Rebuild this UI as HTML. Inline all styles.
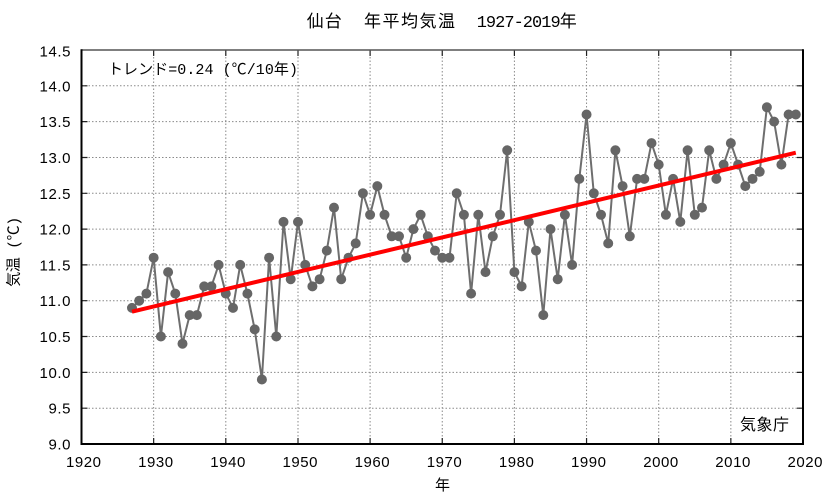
<!DOCTYPE html>
<html>
<head>
<meta charset="utf-8">
<style>
html,body{margin:0;padding:0;background:#fff;}
svg{display:block;}
text{fill:#000;}
.tk{font-family:"Liberation Sans",sans-serif;font-size:15px;}
.jp{font-family:"Liberation Mono","Noto Sans CJK JP",monospace;}
</style>
</head>
<body>
<svg width="833" height="498" viewBox="0 0 833 498" xmlns="http://www.w3.org/2000/svg">
<rect x="0" y="0" width="833" height="498" fill="#fff"/>

<!-- title -->
<text class="jp" x="306.7" y="27" font-size="17" textLength="35">仙台</text>
<text class="jp" x="364" y="27" font-size="17" textLength="91">年平均気温</text>
<text class="jp" x="476.7" y="27" font-size="17" textLength="100">1927-2019年</text>

<!-- grid -->
<g stroke="#8a8a8a" stroke-width="1" stroke-dasharray="1.5 2" fill="none">
  <line x1="81.5" y1="85.8" x2="803" y2="85.8"/>
  <line x1="81.5" y1="121.6" x2="803" y2="121.6"/>
  <line x1="81.5" y1="157.5" x2="803" y2="157.5"/>
  <line x1="81.5" y1="193.3" x2="803" y2="193.3"/>
  <line x1="81.5" y1="229.1" x2="803" y2="229.1"/>
  <line x1="81.5" y1="264.9" x2="803" y2="264.9"/>
  <line x1="81.5" y1="300.7" x2="803" y2="300.7"/>
  <line x1="81.5" y1="336.5" x2="803" y2="336.5"/>
  <line x1="81.5" y1="372.4" x2="803" y2="372.4"/>
  <line x1="81.5" y1="408.2" x2="803" y2="408.2"/>
  <line x1="153.65" y1="50" x2="153.65" y2="444"/>
  <line x1="225.8" y1="50" x2="225.8" y2="444"/>
  <line x1="298" y1="50" x2="298" y2="444"/>
  <line x1="370.1" y1="50" x2="370.1" y2="444"/>
  <line x1="442.25" y1="50" x2="442.25" y2="444"/>
  <line x1="514.4" y1="50" x2="514.4" y2="444"/>
  <line x1="586.55" y1="50" x2="586.55" y2="444"/>
  <line x1="658.7" y1="50" x2="658.7" y2="444"/>
  <line x1="730.85" y1="50" x2="730.85" y2="444"/>
</g>

<!-- ticks -->
<g stroke="#222" stroke-width="1.2">
  <path d="M81.5 85.8h6M81.5 121.6h6M81.5 157.5h6M81.5 193.3h6M81.5 229.1h6M81.5 264.9h6M81.5 300.7h6M81.5 336.5h6M81.5 372.4h6M81.5 408.2h6"/>
  <path d="M803 85.8h-6M803 121.6h-6M803 157.5h-6M803 193.3h-6M803 229.1h-6M803 264.9h-6M803 300.7h-6M803 336.5h-6M803 372.4h-6M803 408.2h-6"/>
  <path d="M153.65 444v-6M225.8 444v-6M298 444v-6M370.1 444v-6M442.25 444v-6M514.4 444v-6M586.55 444v-6M658.7 444v-6M730.85 444v-6"/>
  <path d="M153.65 50v6M225.8 50v6M298 50v6M370.1 50v6M442.25 50v6M514.4 50v6M586.55 50v6M658.7 50v6M730.85 50v6"/>
</g>

<!-- frame -->
<line x1="81.5" y1="50" x2="803" y2="50" stroke="#555" stroke-width="1.5"/>
<line x1="803" y1="49.3" x2="803" y2="444" stroke="#000" stroke-width="2"/>
<line x1="81.5" y1="444" x2="804" y2="444" stroke="#000" stroke-width="2"/>
<line x1="81.5" y1="49.3" x2="81.5" y2="445" stroke="#000" stroke-width="2"/>

<!-- y tick labels -->
<g class="tk" text-anchor="end">
  <text x="70.5" y="56.5" textLength="31">14.5</text>
  <text x="70.5" y="91.3" textLength="31">14.0</text>
  <text x="70.5" y="127.1" textLength="31">13.5</text>
  <text x="70.5" y="163" textLength="31">13.0</text>
  <text x="70.5" y="198.8" textLength="31">12.5</text>
  <text x="70.5" y="234.6" textLength="31">12.0</text>
  <text x="70.5" y="270.4" textLength="31">11.5</text>
  <text x="70.5" y="306.2" textLength="31">11.0</text>
  <text x="70.5" y="342" textLength="31">10.5</text>
  <text x="70.5" y="377.9" textLength="31">10.0</text>
  <text x="70.5" y="413.7" textLength="22">9.5</text>
  <text x="70.5" y="449.5" textLength="22">9.0</text>
</g>

<!-- x tick labels -->
<g class="tk" text-anchor="middle">
  <text x="83.5" y="467" textLength="35">1920</text>
  <text x="155.6" y="467" textLength="35">1930</text>
  <text x="227.8" y="467" textLength="35">1940</text>
  <text x="300" y="467" textLength="35">1950</text>
  <text x="372.1" y="467" textLength="35">1960</text>
  <text x="444.2" y="467" textLength="35">1970</text>
  <text x="516.4" y="467" textLength="35">1980</text>
  <text x="588.5" y="467" textLength="35">1990</text>
  <text x="660.7" y="467" textLength="35">2000</text>
  <text x="732.8" y="467" textLength="35">2010</text>
  <text x="805" y="467" textLength="35">2020</text>
</g>

<!-- axis titles -->
<text class="jp" x="442.5" y="490" font-size="15" text-anchor="middle">年</text>
<text class="jp" font-size="15" text-anchor="middle" transform="translate(18.5,251.7) rotate(-90)" textLength="70">気温 (℃)</text>

<!-- annotations -->
<text class="jp" x="108" y="74" font-size="15" textLength="190">トレンド=0.24 (℃/10年)</text>
<text class="jp" x="740" y="430" font-size="16" textLength="49">気象庁</text>

<!-- data line -->
<polyline fill="none" stroke="#6e6e6e" stroke-width="2" stroke-linejoin="round" points="
132.0,307.9 139.2,300.7 146.4,293.6 153.65,257.7 160.9,336.5 168.1,272.1 175.3,293.6 182.5,343.7 189.7,315.1 196.9,315.1
204.2,286.4 211.4,286.4 218.6,264.9 225.8,293.6 233.0,307.9 240.2,264.9 247.4,293.6 254.7,329.4 261.9,379.5 269.1,257.7
276.3,336.5 283.5,221.9 290.7,279.2 298.0,221.9 305.2,264.9 312.4,286.4 319.6,279.2 326.8,250.6 334.0,207.6 341.2,279.2
348.5,257.7 355.7,243.4 362.9,193.3 370.1,214.8 377.3,186.1 384.5,214.8 391.7,236.3 399.0,236.3 406.2,257.7 413.4,229.1
420.6,214.8 427.8,236.3 435.0,250.6 442.25,257.7 449.5,257.7 456.7,193.3 463.9,214.8 471.1,293.6 478.3,214.8 485.5,272.1
492.8,236.3 500.0,214.8 507.2,150.3 514.4,272.1 521.6,286.4 528.8,221.9 536.0,250.6 543.3,315.1 550.5,229.1 557.7,279.2
564.9,214.8 572.1,264.9 579.3,178.9 586.55,114.5 593.8,193.3 601.0,214.8 608.2,243.4 615.4,150.3 622.6,186.1 629.8,236.3
637.1,178.9 644.3,178.9 651.5,143.1 658.7,164.6 665.9,214.8 673.1,178.9 680.3,221.9 687.6,150.3 694.8,214.8 702.0,207.6
709.2,150.3 716.4,178.9 723.6,164.6 730.85,143.1 738.1,164.6 745.3,186.1 752.5,178.9 759.7,171.8 766.9,107.3 774.1,121.6
781.4,164.6 788.6,114.5 795.8,114.5"/>

<!-- markers -->
<path fill="none" stroke="#666" stroke-width="10" stroke-linecap="round" d="
M132.0 307.9h0M139.2 300.7h0M146.4 293.6h0M153.65 257.7h0M160.9 336.5h0M168.1 272.1h0M175.3 293.6h0M182.5 343.7h0M189.7 315.1h0M196.9 315.1h0
M204.2 286.4h0M211.4 286.4h0M218.6 264.9h0M225.8 293.6h0M233.0 307.9h0M240.2 264.9h0M247.4 293.6h0M254.7 329.4h0M261.9 379.5h0M269.1 257.7h0
M276.3 336.5h0M283.5 221.9h0M290.7 279.2h0M298.0 221.9h0M305.2 264.9h0M312.4 286.4h0M319.6 279.2h0M326.8 250.6h0M334.0 207.6h0M341.2 279.2h0
M348.5 257.7h0M355.7 243.4h0M362.9 193.3h0M370.1 214.8h0M377.3 186.1h0M384.5 214.8h0M391.7 236.3h0M399.0 236.3h0M406.2 257.7h0M413.4 229.1h0
M420.6 214.8h0M427.8 236.3h0M435.0 250.6h0M442.25 257.7h0M449.5 257.7h0M456.7 193.3h0M463.9 214.8h0M471.1 293.6h0M478.3 214.8h0M485.5 272.1h0
M492.8 236.3h0M500.0 214.8h0M507.2 150.3h0M514.4 272.1h0M521.6 286.4h0M528.8 221.9h0M536.0 250.6h0M543.3 315.1h0M550.5 229.1h0M557.7 279.2h0
M564.9 214.8h0M572.1 264.9h0M579.3 178.9h0M586.55 114.5h0M593.8 193.3h0M601.0 214.8h0M608.2 243.4h0M615.4 150.3h0M622.6 186.1h0M629.8 236.3h0
M637.1 178.9h0M644.3 178.9h0M651.5 143.1h0M658.7 164.6h0M665.9 214.8h0M673.1 178.9h0M680.3 221.9h0M687.6 150.3h0M694.8 214.8h0M702.0 207.6h0
M709.2 150.3h0M716.4 178.9h0M723.6 164.6h0M730.85 143.1h0M738.1 164.6h0M745.3 186.1h0M752.5 178.9h0M759.7 171.8h0M766.9 107.3h0M774.1 121.6h0
M781.4 164.6h0M788.6 114.5h0M795.8 114.5h0"/>

<!-- trend line -->
<line x1="132.0" y1="311.7" x2="795.8" y2="152.7" stroke="#ff0000" stroke-width="4"/>
</svg>
</body>
</html>
